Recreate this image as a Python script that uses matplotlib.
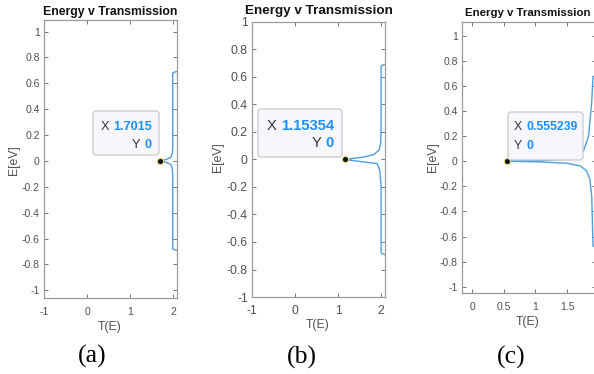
import numpy as np
import matplotlib.pyplot as plt
from matplotlib.patches import FancyBboxPatch
from matplotlib.text import Annotation
from matplotlib.transforms import IdentityTransform

# values
E_a = [-0.70, -0.69, -0.68, -0.60, -0.30, -0.10, -0.06, -0.03, -0.012, 0.0,
       0.012, 0.03, 0.06, 0.10, 0.30, 0.60, 0.68, 0.69, 0.70]
T_a = [2.30, 2.06, 1.99, 1.99, 1.99, 1.99, 1.98, 1.95, 1.85, 1.7015,
       1.85, 1.95, 1.98, 1.99, 1.99, 1.99, 1.99, 2.06, 2.30]

E_b = [-0.70, -0.69, -0.68, -0.40, -0.20, -0.08, -0.03, -0.018, 0.0,
       0.018, 0.036, 0.068, 0.12, 0.24, 0.50, 0.68, 0.69, 0.70]
T_b = [2.30, 2.06, 2.00, 2.00, 2.00, 1.97, 1.91, 1.60, 1.15354,
       1.60, 1.83, 1.95, 1.99, 2.00, 2.00, 2.00, 2.06, 2.30]

E_c = [-0.69, -0.675, -0.46, -0.275, -0.14, -0.077, -0.037, -0.016, -0.005, 0.0,
       0.005, 0.016, 0.037, 0.095, 0.20, 0.47, 0.675, 0.69]
T_c = [2.00, 1.91, 1.90, 1.89, 1.86, 1.81, 1.71, 1.50, 1.07, 0.555239,
       1.07, 1.50, 1.68, 1.77, 1.84, 1.89, 1.91, 2.00]

tips = ["1.7015", "1.15354", "0.555239"]
tip_x = [1.7015, 1.15354, 0.555239]
captions = ["(a)", "(b)", "(c)"]

W, H = 594, 374
fig = plt.figure(figsize=(W / 100, H / 100), dpi=100)
SANS = "Liberation Sans"
GRAY = "#505050"
LINE = "#4f9fdc"
TIPBLUE = "#1a90ff"


def fx(x):
    return x / W


def fy(y):
    return 1 - y / H


def make_axes(rect, xlim, ylim, xticks, tsize, xpad):
    l, t, r, b = rect
    ax = fig.add_axes([fx(l), fy(b), (r - l) / W, (b - t) / H])
    ax.set_xlim(xlim)
    ax.set_ylim(ylim)
    ax.set_xticks(xticks)
    yt = np.round(np.arange(-1, 1.01, 0.2), 1)
    ax.set_yticks(yt)
    ax.set_yticklabels([f"{v:g}" if v != 0 else "0" for v in yt])
    ax.set_xticklabels([f"{v:g}" for v in xticks])
    ax.tick_params(direction="in", length=3, width=0.7, color="#777777",
                   top=True, right=True, labelsize=tsize, labelcolor=GRAY)
    ax.tick_params(axis="x", pad=xpad)
    ax.tick_params(axis="y", pad=3)
    for s in ax.spines.values():
        s.set_color("#9a9a9a")
        s.set_linewidth(0.9)
    for lab in ax.get_xticklabels() + ax.get_yticklabels():
        lab.set_family(SANS)
    return ax


axA = make_axes((44, 20, 177, 298), (-1.0, 2.09), (-1.06, 1.09), [-1, 0, 1, 2], 7.6, 6.5)
axB = make_axes((252, 22, 385, 297), (-1.0, 2.09), (-1.0, 1.0), [-1, 0, 1, 2], 8.8, 5.5)
axC = make_axes((462, 22, 595.5, 293), (-0.16, 1.95), (-1.05, 1.11), [0, 0.5, 1, 1.5], 7.5, 6.5)

for ax, E, T, xt in zip([axA, axB, axC], [E_a, E_b, E_c], [T_a, T_b, T_c], tip_x):
    ax.plot(T, E, color=LINE, lw=1.0)
    ax.plot([xt], [0], "o", ms=4.5, mfc="#111111", mec="#e6dc78", mew=0.8,
            zorder=5, clip_on=False)

# titles, axis labels, captions
for cx, cy, fs in [(110, 12, 8.8), (319, 11, 9.7), (528, 13, 8.2)]:
    fig.text(fx(cx), fy(cy), "Energy v Transmission", family=SANS,
             weight="bold", fontsize=fs, ha="center", va="center", color="#111111")
for lx, ly in [(14, 160), (218, 157), (433, 157)]:
    fig.text(fx(lx), fy(ly), "E[eV]", family=SANS, fontsize=8.8, rotation=90,
             ha="center", va="center", color=GRAY)
for tx, ty in [(110, 327), (318, 325), (528, 322)]:
    fig.text(fx(tx), fy(ty), "T(E)", family=SANS, fontsize=8.8,
             ha="center", va="center", color=GRAY)
for (cx, cy), cap in zip([(92, 356), (302, 357), (511, 357)], captions):
    fig.text(fx(cx), fy(cy), cap, family="Liberation Serif", fontsize=18.5,
             ha="center", va="center", color="black")

# data tips
boxes = [(93, 111, 159, 155), (258, 109, 342, 157), (508, 112, 583, 160)]
for (l, t, r, b) in boxes:
    p = FancyBboxPatch((l, H - b), r - l, b - t,
                       boxstyle="round,pad=0,rounding_size=3",
                       transform=IdentityTransform(), fc="#f6f6fb",
                       ec="#c9c9c9", lw=0.9, zorder=3)
    fig.add_artist(p)

tip_layout = [
    # anchor x, line1 y, line2 y, alignment, fontsize
    (152, 127, 145, "right", 9.2),
    (334, 126, 143, "right", 10.6),
    (514, 127, 146, "left", 8.8),
]
for val, (x0, y1, y2, align, fs) in zip(tips, tip_layout):
    for y, key, v in [(y1, "X", val), (y2, "Y", "0")]:
        if align == "right":
            first = fig.text(fx(x0), fy(y), v, family=SANS, weight="bold",
                             fontsize=fs, color=TIPBLUE, ha="right", va="center",
                             zorder=6)
            second = Annotation(key, xy=(0, 0.5), xycoords=first, xytext=(-3, 0),
                                textcoords="offset points", ha="right", va="center",
                                family=SANS, fontsize=fs, color="#333333", zorder=6)
        else:
            first = fig.text(fx(x0), fy(y), key, family=SANS, fontsize=fs,
                             color="#333333", ha="left", va="center", zorder=6)
            second = Annotation(v, xy=(1, 0.5), xycoords=first, xytext=(3, 0),
                                textcoords="offset points", ha="left", va="center",
                                family=SANS, weight="bold", fontsize=fs,
                                color=TIPBLUE, zorder=6)
        fig.add_artist(second)

fig.savefig("out.png", dpi=100)
